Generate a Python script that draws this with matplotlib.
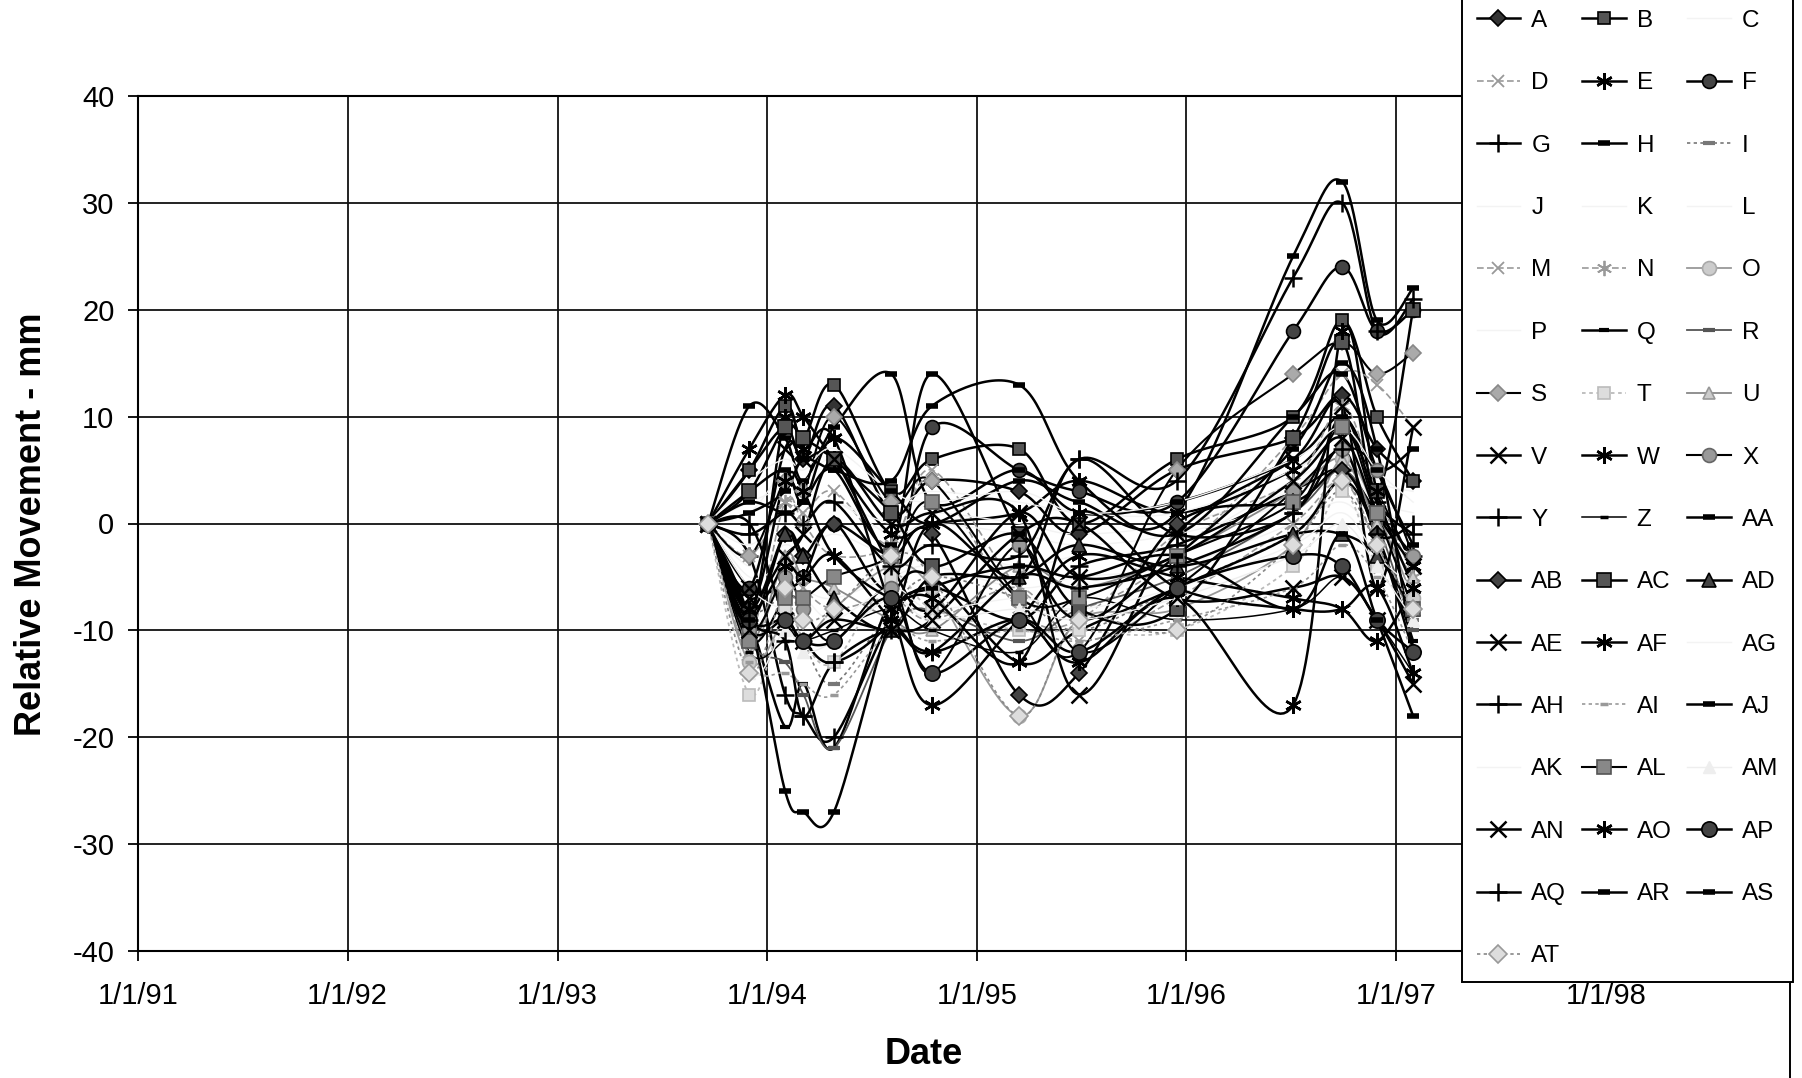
import datetime as dt

import matplotlib
matplotlib.use("Agg")
import matplotlib.dates as mdates
import matplotlib.pyplot as plt
import numpy as np
from matplotlib.lines import Line2D

plt.rcParams['font.family'] = ['Liberation Sans', 'DejaVu Sans']
plt.rcParams['axes.unicode_minus'] = False

# survey dates (x) and relative movement of each point in mm (y)
survey_dates = ["1993-09-20", "1993-12-01", "1994-02-01", "1994-03-05", "1994-04-27",
                "1994-08-05", "1994-10-15", "1995-03-15", "1995-06-28", "1995-12-15",
                "1996-07-05", "1996-09-28", "1996-11-28", "1997-01-30"]

A = [0, 5, 9, 6, 11, 1, 4, 3, -1, 5, 8, 12, 7, 4]
B = [0, 5, 11, 8, 13, 3, 6, 7, 0, 6, 10, 19, 10, 4]
C = [0, -4, -2, -3, -1, -3, -2, -4, -3, -2, 4, 6, 2, -1]
D = [0, -3, 2, 1, 3, -2, 5, -6, -8, -3, 8, 14, 13, 9]
E = [0, 7, 12, 10, 6, -1, 0, 1, 4, 1, 5, 9, 3, -4]
F = [0, -6, -6, -5, 0, -6, 9, 5, 3, 2, 18, 24, 18, 20]
G = [0, -3, -16, -18, -20, -9, -6, -9, -4, -2, 3, 5, 1, -3]
H = [0, 11, 8, 4, 9, 14, 2, 5, 1, 2, 6, 10, 5, 7]
I = [0, -8, -7, -11, -15, -8, -5, -7, -10, -6, -1, 3, -2, -9]
J = [0, 2, 3, 1, 2, 0, 1, 0, -1, 0, 3, 5, 2, 1]
K = [0, -5, -4, -6, -7, -5, -4, -6, -5, -4, 0, 2, -1, -3]
L = [0, 1, 5, 4, 6, 2, 3, 2, 1, 1, 5, 8, 4, 3]
M = [0, -12, -3, -6, -8, -7, -9, -6, -11, -7, 0, 4, -2, -8]
N = [0, -10, 2, 0, -3, -2, 4, -8, -9, -1, 4, 11, 3, -5]
O = [0, -13, -9, -11, -8, -4, -6, -18, -9, -8, -2, 6, 1, -7]
P = [0, -2, 1, 0, 2, -1, 0, -1, -2, -1, 2, 4, 1, 0]
Q = [0, -9, -19, -15, -21, -7, -5, -13, -10, -6, -1, 4, -1, -11]
R = [0, -11, -13, -16, -21, -10, -8, -11, -8, -5, 1, 5, 0, -10]
S = [0, -3, 4, 3, 10, 2, 4, -7, -12, 5, 14, 17, 14, 16]
T = [0, -16, -8, -11, -13, -5, -8, -10, -10, -10, -4, 3, -4, -8]
U = [0, -11, -3, -5, -6, -9, -10, -4, -6, -3, 3, 6, 0, -5]
V = [0, -7, -3, -1, 6, 0, 1, 1, -16, -1, 6, 11, -6, 9]
W = [0, -9, 10, 7, 8, -8, -17, -9, -3, -5, -7, -8, -11, -6]
X = [0, -10, -5, -8, -11, -6, -14, -2, -12, -6, 3, 7, 5, -3]
Y = [0, 0, -9, -11, -13, -9, 0, -5, 6, -1, 1, 10, 2, -1]
Z = [0, -12, -11, -11, -10, -8, -10, -12, -7, -9, -8, -5, -9, -14]
AA = [0, 3, 5, 2, 8, 3, 0, 4, 2, 1, 25, 32, 19, 22]
AB = [0, -8, -1, -3, 0, -3, -1, -16, -14, 0, 2, 5, -1, -12]
AC = [0, 3, 9, 8, 6, 1, -4, -1, -8, -8, 8, 17, 3, 20]
AD = [0, -9, -1, -3, -7, -10, -5, -5, -2, -4, -1, -1, -3, -8]
AE = [0, -6, 7, 6, 6, -4, -8, 1, -5, -3, 4, 8, 1, -4]
AF = [0, -8, -4, -5, -3, -9, -12, -9, -13, -7, -17, 18, 3, -6]
AG = [0, -6, -8, -7, -9, -6, -8, -7, -8, -6, -2, 1, -3, -6]
AH = [0, -1, 1, 0, 2, -4, -2, -3, 6, 4, 23, 30, 18, 21]
AI = [0, -13, -14, -15, -16, -10, -11, -10, -11, -9, -6, -2, -5, -12]
AJ = [0, 2, 1, 2, 5, -2, 14, -1, -9, -3, 7, 15, 7, -12]
AK = [0, 4, 6, 5, 7, 3, 2, 3, 1, 2, 6, 9, 5, 2]
AL = [0, -11, -7, -7, -5, -3, 2, -7, -7, -3, 2, 9, 1, -8]
AM = [0, -14, -10, -12, -11, -7, -9, -8, -9, -7, -3, 0, -4, -9]
AN = [0, -10, -9, -11, -9, -10, -9, -1, 0, -7, -6, -5, -9, -15]
AO = [0, -8, 4, 3, -3, -7, -7, -13, 1, -6, -8, -8, -6, -14]
AP = [0, -9, -9, -11, -11, -7, -14, -9, -12, -6, -3, -4, -9, -12]
AQ = [0, -9, -11, -18, -13, -10, -12, -5, -6, -4, 1, 7, -1, 0]
AR = [0, -9, -25, -27, -27, -9, -6, -4, -5, -3, -8, -1, -9, -18]
AS = [0, 1, 3, 6, 5, 4, 11, 13, 4, -1, 10, 14, 5, -2]
AT = [0, -14, -6, -9, -8, -3, -5, -18, -9, -10, -2, 4, -2, -8]

names = ["A", "B", "C", "D", "E", "F", "G", "H", "I", "J", "K", "L", "M", "N", "O", "P",
         "Q", "R", "S", "T", "U", "V", "W", "X", "Y", "Z", "AA", "AB", "AC", "AD", "AE",
         "AF", "AG", "AH", "AI", "AJ", "AK", "AL", "AM", "AN", "AO", "AP", "AQ", "AR",
         "AS", "AT"]
values = [A, B, C, D, E, F, G, H, I, J, K, L, M, N, O, P, Q, R, S, T, U, V, W, X, Y, Z,
          AA, AB, AC, AD, AE, AF, AG, AH, AI, AJ, AK, AL, AM, AN, AO, AP, AQ, AR, AS, AT]

year_ticks = list(range(1991, 1999))
y_ticks = [-40, -30, -20, -10, 0, 10, 20, 30, 40]

# line style per series: colour, width, dash, marker, size, face, edge, edge width
ast = (6, 2, 0)
dash = (0, (4, 2))
dot = (0, (2, 2))
LW = 1.8
faint = ('#f3f3f3', 1.0, '-', None, 0, 'none', 'none', 0)
styles = {
    "A": ('k', LW, '-', 'D', 8, '#333333', 'k', 1.2),
    "B": ('k', LW, '-', 's', 9, '#555555', 'k', 1.2),
    "C": faint,
    "D": ('#999999', 1.2, dash, 'x', 9, '#999999', '#999999', 1.3),
    "E": ('k', LW, '-', ast, 12, 'k', 'k', 1.8),
    "F": ('k', LW, '-', 'o', 10, '#444444', 'k', 1.2),
    "G": ('k', LW, '-', '+', 13, 'k', 'k', 1.8),
    "H": ('k', LW, '-', '_', 9, 'k', 'k', 4),
    "I": ('#777777', 1.2, dot, '_', 8, '#777777', '#777777', 3),
    "J": faint,
    "K": faint,
    "L": faint,
    "M": ('#999999', 1.2, dash, 'x', 9, '#999999', '#999999', 1.3),
    "N": ('#999999', 1.2, dash, ast, 11, '#999999', '#999999', 1.3),
    "O": ('#999999', 1.3, '-', 'o', 10, '#cccccc', '#aaaaaa', 1.2),
    "P": faint,
    "Q": ('k', LW, '-', '_', 7, 'k', 'k', 3),
    "R": ('#555555', 1.3, '-', '_', 8, '#555555', '#555555', 3),
    "S": ('k', 1.5, '-', 'D', 8, '#aaaaaa', '#888888', 1.2),
    "T": ('#bbbbbb', 1.3, dot, 's', 9, '#dddddd', '#bbbbbb', 1.2),
    "U": ('#888888', 1.3, '-', '^', 9, '#cccccc', '#999999', 1.2),
    "V": ('k', LW, '-', 'x', 11, 'k', 'k', 1.8),
    "W": ('k', LW, '-', ast, 12, 'k', 'k', 1.8),
    "X": ('k', 1.5, '-', 'o', 10, '#999999', '#666666', 1.2),
    "Y": ('k', LW, '-', '+', 13, 'k', 'k', 1.8),
    "Z": ('k', 1.1, '-', '_', 6, 'k', 'k', 2.5),
    "AA": ('k', LW, '-', '_', 9, 'k', 'k', 4),
    "AB": ('k', LW, '-', 'D', 8, '#444444', 'k', 1.2),
    "AC": ('k', LW, '-', 's', 10, '#555555', 'k', 1.2),
    "AD": ('k', LW, '-', '^', 10, '#444444', 'k', 1.2),
    "AE": ('k', LW, '-', 'x', 11, 'k', 'k', 1.8),
    "AF": ('k', LW, '-', ast, 12, 'k', 'k', 1.8),
    "AG": faint,
    "AH": ('k', LW, '-', '+', 13, 'k', 'k', 1.8),
    "AI": ('#999999', 1.2, dot, '_', 6, '#999999', '#999999', 2.5),
    "AJ": ('k', LW, '-', '_', 9, 'k', 'k', 4),
    "AK": faint,
    "AL": ('k', 1.5, '-', 's', 10, '#888888', '#555555', 1.2),
    "AM": ('#eeeeee', 1.0, '-', '^', 9, '#eeeeee', '#eeeeee', 1.0),
    "AN": ('k', LW, '-', 'x', 12, 'k', 'k', 1.8),
    "AO": ('k', LW, '-', ast, 12, 'k', 'k', 1.8),
    "AP": ('k', LW, '-', 'o', 11, '#444444', 'k', 1.2),
    "AQ": ('k', LW, '-', '+', 13, 'k', 'k', 1.8),
    "AR": ('k', LW, '-', '_', 9, 'k', 'k', 4),
    "AS": ('k', LW, '-', '_', 9, 'k', 'k', 4),
    "AT": ('#888888', 1.2, dot, 'D', 9, '#dddddd', '#999999', 1.2),
}


def smooth(ax, xs, ys, n=30):
    # Catmull-Rom style bezier through the points, built in pixel space
    pts = ax.transData.transform(np.column_stack([xs, ys]))
    out = [pts[0]]
    t = np.linspace(0, 1, n)[1:, None]
    for i in range(len(pts) - 1):
        p0 = pts[i - 1] if i > 0 else pts[i]
        p1, p2 = pts[i], pts[i + 1]
        p3 = pts[i + 2] if i + 2 < len(pts) else pts[i + 1]
        c1 = p1 + (p2 - p0) / 6
        c2 = p2 - (p3 - p1) / 6
        seg = ((1 - t) ** 3) * p1 + 3 * ((1 - t) ** 2) * t * c1 \
            + 3 * (1 - t) * t ** 2 * c2 + t ** 3 * p2
        out.extend(seg)
    return ax.transData.inverted().transform(np.array(out))


W_PX, H_PX = 1802, 1078
fig = plt.figure(figsize=(W_PX / 100, H_PX / 100), dpi=100)
ax = fig.add_axes([138 / W_PX, 1 - 951 / H_PX, 1468 / W_PX, 855 / H_PX])

x = mdates.date2num([dt.datetime.strptime(d, "%Y-%m-%d") for d in survey_dates])
xticks = mdates.date2num([dt.datetime(yr, 1, 1) for yr in year_ticks])
ax.set_xlim(xticks[0], xticks[-1])
ax.set_ylim(-40, 40)

handles = []
for name, vals in zip(names, values):
    col, lw, ls, mk, ms, mfc, mec, mew = styles[name]
    curve = smooth(ax, x, vals)
    ax.plot(curve[:, 0], curve[:, 1], color=col, lw=lw, ls=ls, zorder=3)
    if mk is not None:
        ax.plot(x, vals, ls='none', marker=mk, ms=ms, mfc=mfc, mec=mec, mew=mew, zorder=4)
    handles.append(Line2D([0], [0], color=col, lw=lw, ls=ls, marker=mk, ms=ms,
                          mfc=mfc, mec=mec, mew=mew))

ax.set_xticks(xticks)
ax.set_xticklabels([f"1/1/{yr % 100:02d}" for yr in year_ticks])
ax.set_yticks(y_ticks)
ax.set_yticklabels([str(v) for v in y_ticks])
ax.tick_params(axis='both', direction='out', length=7, width=1.3, color='k',
               labelsize=21)
ax.tick_params(axis='x', pad=15)
ax.tick_params(axis='y', pad=10)
ax.grid(True, color='#111111', lw=1.3)
ax.set_axisbelow(True)
for sp in ax.spines.values():
    sp.set_color('k')
    sp.set_linewidth(1.5)

fig.text(924 / W_PX, 1 - 1054 / H_PX, "Date", fontsize=26, fontweight='bold',
         ha='center', va='center')
fig.text(32 / W_PX, 1 - 524 / H_PX, "Relative Movement - mm", fontsize=26,
         fontweight='bold', rotation=90, ha='center', va='center')

# legend filled row by row: A B C / D E F / ...
order = list(range(0, 46, 3)) + list(range(1, 46, 3)) + list(range(2, 46, 3))
leg = fig.legend([handles[i] for i in order], [names[i] for i in order], ncol=3,
                 loc='lower left', bbox_to_anchor=(1462 / W_PX, 1 - 982 / H_PX),
                 bbox_transform=fig.transFigure, frameon=True, fancybox=False,
                 edgecolor='k', framealpha=1, fontsize=17.5, handlelength=1.8,
                 handletextpad=0.45, columnspacing=0.65, labelspacing=1.66,
                 borderpad=0.6, borderaxespad=0)
leg.get_frame().set_linewidth(1.4)

fig.add_artist(Line2D([1790 / W_PX, 1790 / W_PX], [0, 1 - 982 / H_PX],
                      transform=fig.transFigure, color='k', lw=1.4))

fig.savefig("out.png", dpi=100)
